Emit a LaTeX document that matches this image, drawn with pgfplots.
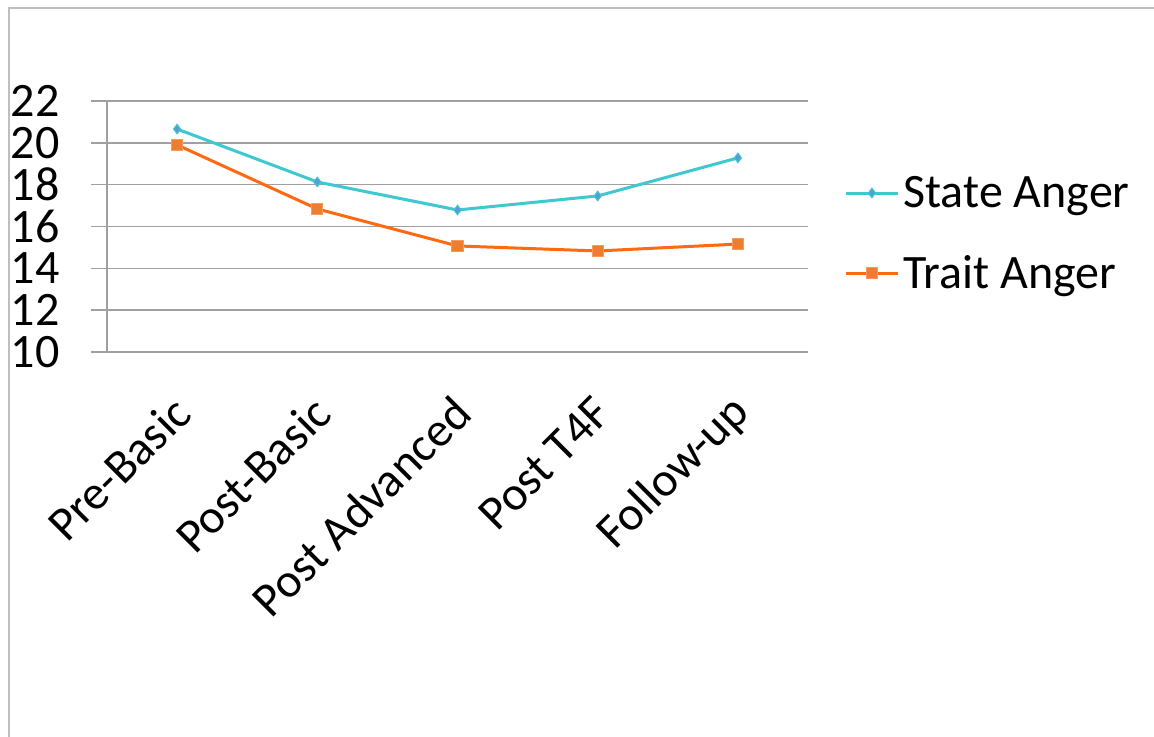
\documentclass[border=0pt]{standalone}
\usepackage{fontspec}
\setmainfont{Carlito}
\usepackage{pgfplots}
\pgfplotsset{compat=1.18}
\definecolor{statec}{HTML}{3FC8CF}
\definecolor{statem}{HTML}{5B9BD5}
\definecolor{traitc}{HTML}{FF6A10}
\definecolor{traitm}{HTML}{ED7D31}
\definecolor{gridc}{HTML}{A0A0A0}
\definecolor{framec}{HTML}{BEBEBE}
\begin{document}
\begin{tikzpicture}
\useasboundingbox (0,0) rectangle (577bp,368.5bp);
\draw[framec, line width=1bp] (4.5bp,0) -- (4.5bp,364.5bp) -- (577bp,364.5bp);
\begin{axis}[
  at={(53.5bp,192.5bp)}, anchor=south west,
  scale only axis, width=350.5bp, height=125.5bp,
  xmin=0.5, xmax=5.5, ymin=10, ymax=22,
  axis x line*=bottom, axis y line*=left,
  axis line style={draw=gridc, line width=0.75bp},
  ytick={10,12,...,22},
  ymajorgrids, major grid style={draw=gridc, line width=0.75bp},
  tick align=outside, major tick length=8bp,
  y tick style={draw=gridc, line width=0.75bp},
  xtick={1,2,3,4,5},
  x tick style={draw=none},
  xticklabels={Pre-Basic,Post-Basic,Post Advanced,Post T4F,Follow-up},
  extra x ticks={0.5,1.5,2.5,3.5,4.5,5.5},
  extra x tick labels={},
  extra x tick style={grid=none, major tick length=7bp, tick style={draw=gridc, line width=0.75bp}},
  /pgf/number format/assume math mode=true,
  tick label style={font=\fontsize{24bp}{28bp}\selectfont},
  yticklabel style={anchor=east, inner sep=0pt, xshift=-15.5bp},
  xticklabel style={xshift=2.5bp, yshift=-18.5bp, rotate=45, anchor=east, inner sep=0pt},
  legend style={at={(axis description cs:1,0.5)}, anchor=west, xshift=18bp, yshift=-3.5bp,
    draw=none, fill=none, font=\fontsize{24bp}{28bp}\selectfont,
    row sep=18.5bp, inner sep=0pt},
  legend cell align=left,
  legend image code/.code={\draw[mark repeat=2,mark phase=2,#1] plot coordinates {(0bp,0bp) (13bp,0bp) (26bp,0bp)};},
]
\addplot[statec, line width=1.5bp, mark=diamond*, mark size=2.4bp,
  mark options={fill=statem, draw=statec, line width=0.5bp}]
  coordinates {(1,20.66) (2,18.13) (3,16.79) (4,17.46) (5,19.28)};
\addlegendentry{State Anger}
\addplot[traitc, line width=1.5bp, mark=square*, mark size=2.8bp,
  mark options={fill=traitm, draw=traitc!70!white, line width=0.5bp}]
  coordinates {(1,19.90) (2,16.84) (3,15.07) (4,14.83) (5,15.16)};
\addlegendentry{Trait Anger}
\end{axis}
\end{tikzpicture}
\end{document}
